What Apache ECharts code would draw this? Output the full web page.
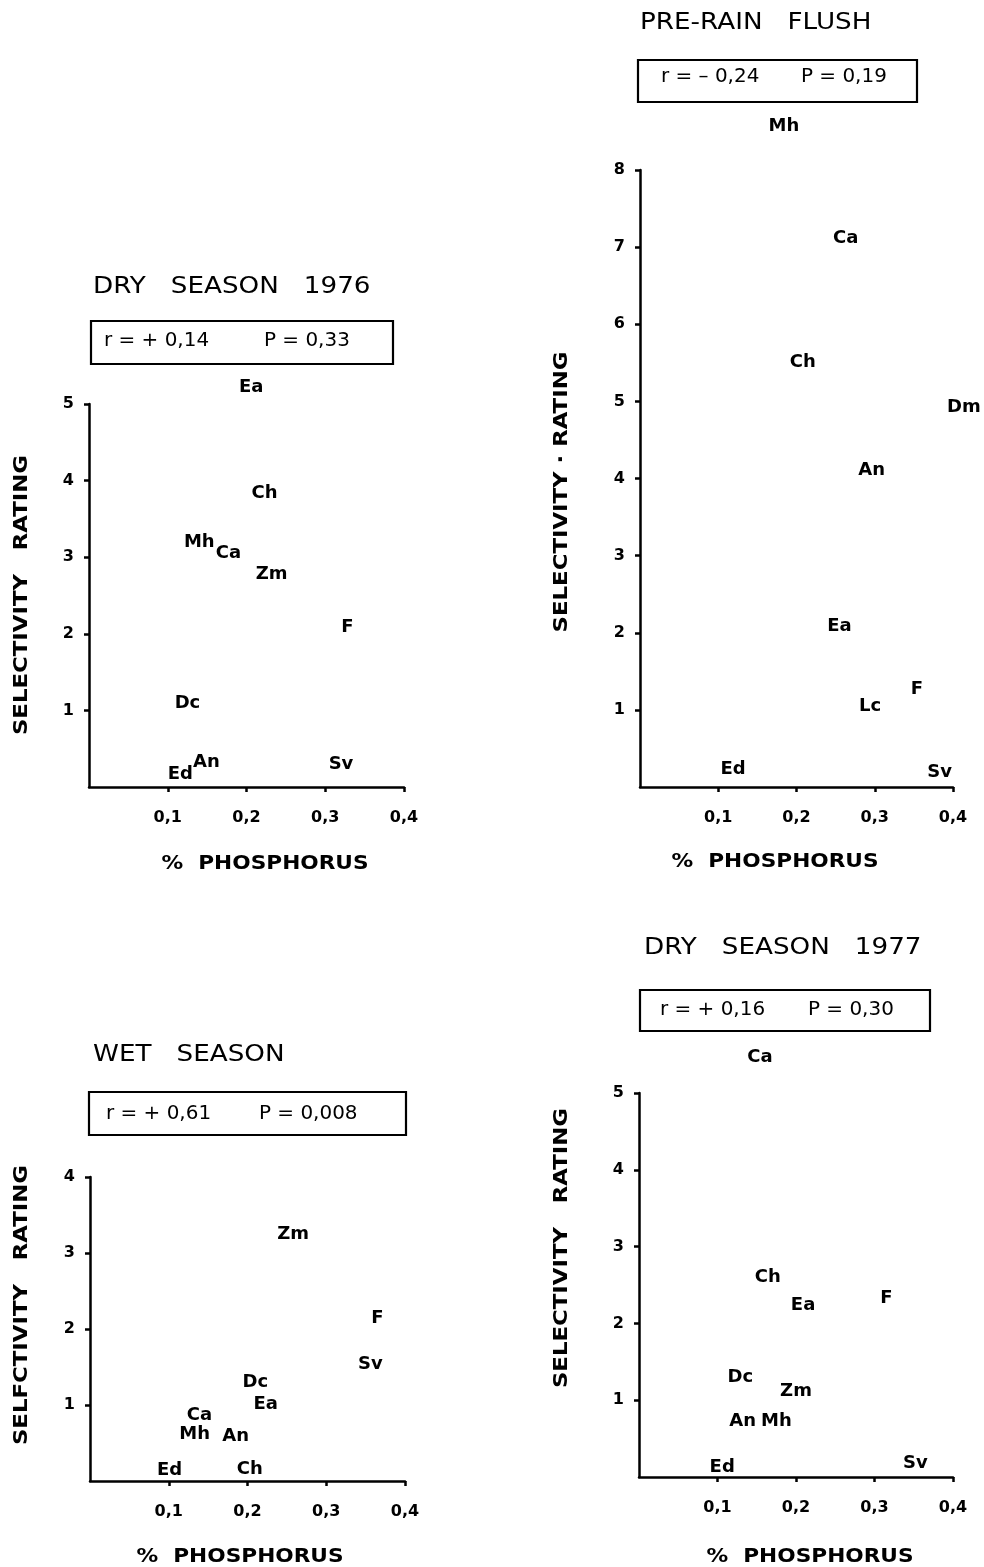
<!DOCTYPE html>
<html>
<head>
<meta charset="utf-8">
<title>Selectivity rating vs % phosphorus</title>
<script src="https://cdn.jsdelivr.net/npm/echarts@6.0.0/dist/echarts.min.js"></script>
<style>
  html, body { margin: 0; padding: 0; background: #fff; }
  #chart { width: 984px; height: 1567px; }
</style>
</head>
<body>
<div id="chart"></div>
<script>
// ---- Data: species codes placed at (% phosphorus, selectivity rating) ----
const dry76Names = ['Ea', 'Ch', 'Mh', 'Ca', 'Zm', 'F', 'Dc', 'An', 'Ed', 'Sv'];
const dry76P     = [0.206, 0.223, 0.140, 0.177, 0.232, 0.328, 0.125, 0.149, 0.116, 0.320];
const dry76Sel   = [5.22, 3.83, 3.19, 3.05, 2.78, 2.08, 1.09, 0.32, 0.16, 0.30];

const preRainNames = ['Mh', 'Ca', 'Ch', 'Dm', 'An', 'Ea', 'F', 'Lc', 'Ed', 'Sv'];
const preRainP     = [0.184, 0.263, 0.208, 0.414, 0.296, 0.255, 0.354, 0.294, 0.119, 0.383];
const preRainSel   = [8.57, 7.11, 5.50, 4.92, 4.10, 2.08, 1.26, 1.04, 0.23, 0.19];

const wetNames = ['Zm', 'F', 'Sv', 'Dc', 'Ea', 'Ca', 'Mh', 'An', 'Ed', 'Ch'];
const wetP     = [0.258, 0.365, 0.356, 0.210, 0.223, 0.139, 0.133, 0.185, 0.101, 0.203];
const wetSel   = [3.24, 2.14, 1.54, 1.30, 1.01, 0.87, 0.62, 0.59, 0.14, 0.16];

const dry77Names = ['Ca', 'Ch', 'Ea', 'F', 'Dc', 'Zm', 'An', 'Mh', 'Ed', 'Sv'];
const dry77P     = [0.154, 0.164, 0.209, 0.315, 0.129, 0.200, 0.132, 0.175, 0.106, 0.352];
const dry77Sel   = [5.46, 2.60, 2.23, 2.32, 1.30, 1.11, 0.72, 0.72, 0.13, 0.18];

// ---- Tick labels ----
const xTicks = [0.1, 0.2, 0.3, 0.4];
const xTickLabels = ['0,1', '0,2', '0,3', '0,4'];
const yTicksTo5 = [1, 2, 3, 4, 5];
const yTicksTo8 = [1, 2, 3, 4, 5, 6, 7, 8];
const yTicksTo4 = [1, 2, 3, 4];

// ---- Panel texts ----
const titles = ['DRY   SEASON   1976', 'PRE-RAIN   FLUSH', 'WET   SEASON', 'DRY   SEASON   1977'];
const statR  = ['r = + 0,14', 'r = – 0,24', 'r = + 0,61', 'r = + 0,16'];
const statP  = ['P = 0,33', 'P = 0,19', 'P = 0,008', 'P = 0,30'];
const yNames = ['SELECTIVITY   RATING', 'SELECTIVITY · RATING', 'SELFCTIVITY   RATING', 'SELECTIVITY   RATING'];
const xName  = '%  PHOSPHORUS';

const panels = [
  { names: dry76Names,   xs: dry76P,   ys: dry76Sel,   yMax: 5, yTicks: yTicksTo5 },
  { names: preRainNames, xs: preRainP, ys: preRainSel, yMax: 8, yTicks: yTicksTo8 },
  { names: wetNames,     xs: wetP,     ys: wetSel,     yMax: 4, yTicks: yTicksTo4 },
  { names: dry77Names,   xs: dry77P,   ys: dry77Sel,   yMax: 5, yTicks: yTicksTo5 }
];

// ---- Layout (pixels) ----
const layout = [
  { grid: { left: 89,  top: 404,  width: 315, height: 383 },
    title: [93, 287], box: [91, 321, 302, 43], r: [104, 341], p: [264, 341],
    yName: [22, 595], xName: [265, 864] },
  { grid: { left: 640, top: 170,  width: 313, height: 617 },
    title: [640, 23], box: [638, 60, 279, 42], r: [661, 77], p: [801, 77],
    yName: [562, 492], xName: [775, 862] },
  { grid: { left: 90,  top: 1177, width: 315, height: 304 },
    title: [93, 1055], box: [89, 1092, 317, 43], r: [106, 1114], p: [259, 1114],
    yName: [22, 1305], xName: [240, 1557] },
  { grid: { left: 639, top: 1093, width: 314, height: 384 },
    title: [644, 948], box: [640, 990, 290, 41], r: [660, 1010], p: [808, 1010],
    yName: [562, 1248], xName: [810, 1557] }
];

const FONT = '"DejaVu Sans", "Liberation Sans", sans-serif';
const AXIS_W = 2.5;
// typewriter-style lettering is set a little wider than the font's natural width
const WIDE = 1.14;

const grids = [], xAxes = [], yAxes = [], series = [], graphics = [];

panels.forEach((pn, i) => {
  const L = layout[i];
  grids.push(Object.assign({ outerBoundsMode: 'none', containLabel: false }, L.grid));

  xAxes.push({
    gridIndex: i, type: 'value', min: 0, max: 0.4, interval: 0.1,
    axisLine: { show: true, onZero: false, lineStyle: { color: '#000', width: AXIS_W } },
    axisTick: { show: true, length: 5, inside: false, customValues: xTicks,
                lineStyle: { color: '#000', width: AXIS_W } },
    axisLabel: { show: true, customValues: xTicks, margin: 23, color: '#000',
                 fontFamily: FONT, fontWeight: 'bold', fontSize: 16,
                 formatter: v => xTickLabels[xTicks.findIndex(t => Math.abs(t - v) < 1e-6)] || '' },
    splitLine: { show: false }
  });

  yAxes.push({
    gridIndex: i, type: 'value', min: 0, max: pn.yMax, interval: 1,
    axisLine: { show: true, onZero: false, lineStyle: { color: '#000', width: AXIS_W } },
    axisTick: { show: true, length: 5, inside: false, customValues: pn.yTicks,
                lineStyle: { color: '#000', width: AXIS_W } },
    axisLabel: { show: true, customValues: pn.yTicks, margin: 15, color: '#000',
                 fontFamily: FONT, fontWeight: 'bold', fontSize: 16,
                 formatter: v => (v === 0 ? '' : String(v)) },
    splitLine: { show: false }
  });

  // Each species is drawn as its code, centred on its data point
  series.push({
    type: 'scatter', xAxisIndex: i, yAxisIndex: i, clip: false, silent: true,
    symbolSize: 1, itemStyle: { color: 'rgba(0,0,0,0)', opacity: 1 },
    data: pn.names.map((n, k) => ({ name: n, value: [pn.xs[k], pn.ys[k]] })),
    label: { show: true, position: 'inside', formatter: '{b}', color: '#000', opacity: 1,
             fontFamily: FONT, fontWeight: 'bold', fontSize: 18 },
    emphasis: { disabled: true }
  });

  // Panel heading
  graphics.push({
    type: 'text', x: L.title[0], y: L.title[1], scaleX: WIDE,
    style: { text: titles[i], fill: '#000', font: `normal 23px ${FONT}`,
             textAlign: 'left', textVerticalAlign: 'middle' }
  });
  // Statistics box
  graphics.push({
    type: 'rect', shape: { x: L.box[0], y: L.box[1], width: L.box[2], height: L.box[3] },
    style: { fill: 'none', stroke: '#000', lineWidth: 2.2 }
  });
  graphics.push({
    type: 'text', x: L.r[0], y: L.r[1], scaleX: 1.05,
    style: { text: statR[i], fill: '#000', font: `normal 19px ${FONT}`,
             textAlign: 'left', textVerticalAlign: 'middle' }
  });
  graphics.push({
    type: 'text', x: L.p[0], y: L.p[1], scaleX: 1.05,
    style: { text: statP[i], fill: '#000', font: `normal 19px ${FONT}`,
             textAlign: 'left', textVerticalAlign: 'middle' }
  });
  // Axis titles
  graphics.push({
    type: 'text', x: L.yName[0], y: L.yName[1], rotation: Math.PI / 2, scaleX: WIDE,
    style: { text: yNames[i], fill: '#000', font: `bold 20px ${FONT}`,
             textAlign: 'center', textVerticalAlign: 'middle' }
  });
  graphics.push({
    type: 'text', x: L.xName[0], y: L.xName[1], scaleX: WIDE,
    style: { text: xName, fill: '#000', font: `bold 19px ${FONT}`,
             textAlign: 'center', textVerticalAlign: 'middle' }
  });
});

const chart = echarts.init(document.getElementById('chart'), null, { renderer: 'canvas' });
chart.setOption({
  backgroundColor: '#fff',
  animation: false,
  grid: grids,
  xAxis: xAxes,
  yAxis: yAxes,
  series: series,
  graphic: { elements: graphics }
});
</script>
</body>
</html>
